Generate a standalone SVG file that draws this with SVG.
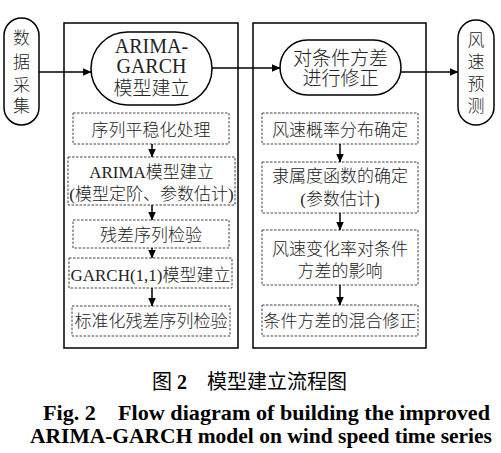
<svg xmlns="http://www.w3.org/2000/svg" width="501" height="453" viewBox="0 0 501 453">
<defs>
<marker id="ah" markerWidth="9" markerHeight="8" refX="8.5" refY="4" orient="auto" markerUnits="userSpaceOnUse">
<path d="M0,0 L9,4 L0,8 Z" fill="#000"/>
</marker>
<style>
.frame{fill:#fff;stroke:#000;stroke-width:1.5}
.pill{fill:#fff;stroke:#000;stroke-width:1.5}
.dash{fill:#fff;stroke:#444;stroke-width:1;stroke-dasharray:2.5 1.5}
.t{font-family:"Liberation Serif","Noto Sans CJK SC",serif;fill:#222;text-anchor:middle;font-weight:300}
.s17{font-size:17px}
.s19{font-size:19px}
.cap{font-family:"Liberation Serif","Noto Sans CJK SC",serif;fill:#000;text-anchor:middle;font-weight:bold}
.ln{stroke:#000;stroke-width:1.5;fill:none}
</style>
</defs>
<rect width="501" height="453" fill="#fff"/>
<g id="frame-left"><rect class="frame" x="64" y="23" width="174" height="325"/></g>
<g id="frame-right"><rect class="frame" x="253" y="23" width="173" height="325"/></g>

<g id="n-data"><rect class="pill" x="4" y="18" width="35" height="107" rx="17.5"/>
<text class="t s17" x="21.5" y="44">数</text><text class="t s17" x="21.5" y="68">据</text><text class="t s17" x="21.5" y="91">采</text><text class="t s17" x="21.5" y="112">集</text></g>

<g id="n-arima"><rect class="pill" x="91" y="32" width="121" height="73" rx="36.5"/>
<text class="t" style="font-size:20px" x="151.5" y="53">ARIMA-</text>
<text class="t" style="font-size:20px" x="151.5" y="73">GARCH</text>
<text class="t s19" x="151.5" y="95">模型建立</text></g>

<g id="n-correct"><rect class="pill" x="280" y="40" width="121" height="55" rx="27.5"/>
<text class="t s19" x="340.5" y="65">对条件方差</text>
<text class="t s19" x="340.5" y="85">进行修正</text></g>

<g id="n-pred"><rect class="pill" x="458" y="20" width="36" height="105" rx="18"/>
<text class="t s17" x="476" y="46">风</text><text class="t s17" x="476" y="68">速</text><text class="t s17" x="476" y="90">预</text><text class="t s17" x="476" y="112">测</text></g>

<g id="n-l1"><rect class="dash" x="73" y="113" width="156" height="31"/><text class="t s17" x="151" y="136">序列平稳化处理</text></g>
<g id="n-l2"><rect class="dash" x="68" y="157" width="167" height="48"/><text class="t s17" x="151.5" y="178">ARIMA模型建立</text><text class="t s17" x="151.5" y="200">(模型定阶、参数估计)</text></g>
<g id="n-l3"><rect class="dash" x="73" y="220" width="156" height="28"/><text class="t s17" x="151" y="241">残差序列检验</text></g>
<g id="n-l4"><rect class="dash" x="69" y="258" width="163" height="30"/><text class="t s17" x="150.5" y="281">GARCH(1,1)模型建立</text></g>
<g id="n-l5"><rect class="dash" x="72" y="306" width="158" height="30"/><text class="t s17" x="151" y="327">标准化残差序列检验</text></g>

<g id="n-r1"><rect class="dash" x="262" y="113" width="156" height="31"/><text class="t s17" x="340" y="136">风速概率分布确定</text></g>
<g id="n-r2"><rect class="dash" x="262" y="162" width="156" height="51"/><text class="t s17" x="340" y="182">隶属度函数的确定</text><text class="t s17" x="340" y="205">(参数估计)</text></g>
<g id="n-r3"><rect class="dash" x="262" y="230" width="156" height="55"/><text class="t s17" x="340" y="255">风速变化率对条件</text><text class="t s17" x="340" y="277">方差的影响</text></g>
<g id="n-r4"><rect class="dash" x="262" y="305" width="156" height="31"/><text class="t s17" x="340" y="327">条件方差的混合修正</text></g>

<g id="connectors">
<line class="ln" x1="39" y1="72" x2="91" y2="72" marker-end="url(#ah)"/>
<line class="ln" x1="212" y1="68" x2="280" y2="68" marker-end="url(#ah)"/>
<line class="ln" x1="401" y1="72" x2="458" y2="72" marker-end="url(#ah)"/>
<line class="ln" x1="152" y1="144" x2="152" y2="157" marker-end="url(#ah)"/>
<line class="ln" x1="152" y1="205" x2="152" y2="220" marker-end="url(#ah)"/>
<line class="ln" x1="152" y1="248" x2="152" y2="258" marker-end="url(#ah)"/>
<line class="ln" x1="152" y1="288" x2="152" y2="306" marker-end="url(#ah)"/>
<line class="ln" x1="340" y1="144" x2="340" y2="162" marker-end="url(#ah)"/>
<line class="ln" x1="340" y1="213" x2="340" y2="230" marker-end="url(#ah)"/>
<line class="ln" x1="340" y1="285" x2="340" y2="305" marker-end="url(#ah)"/>
</g>

<g id="caption">
<text class="cap" x="249.5" y="389" style="font-size:20px;font-weight:normal" textLength="195" lengthAdjust="spacingAndGlyphs">图 <tspan font-weight="bold">2</tspan>　模型建立流程图</text>
<text class="cap" x="266.5" y="420" style="font-size:21px" xml:space="preserve" textLength="447" lengthAdjust="spacingAndGlyphs">Fig. 2    Flow diagram of building the improved</text>
<text class="cap" x="261" y="443" style="font-size:21px" textLength="462" lengthAdjust="spacingAndGlyphs">ARIMA-GARCH model on wind speed time series</text>
</g>
</svg>
